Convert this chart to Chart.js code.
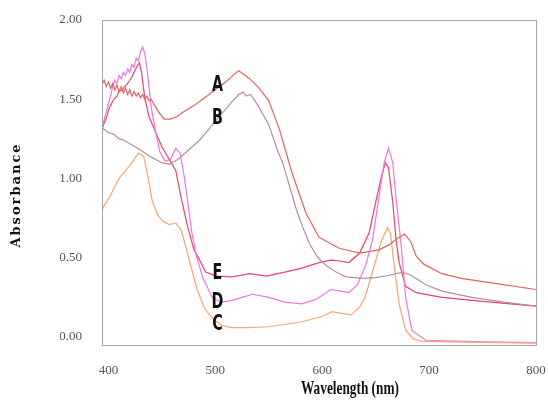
<!DOCTYPE html>
<html>
<head>
<meta charset="utf-8">
<script src="https://cdn.jsdelivr.net/npm/chart.js@4.4.1/dist/chart.umd.min.js"></script>
<style>
  html, body { margin: 0; padding: 0; background: #fff; }
  #wrap { width: 548px; height: 400px; }
</style>
</head>
<body>
<div id="wrap"><canvas id="spectra"></canvas></div>
<script>
// wavelength (nm) / absorbance
const aWl = [394, 396, 398, 400, 402, 404, 406, 408, 410, 412, 414, 416, 418, 420, 422, 424, 426, 428, 430, 432, 434, 436, 438, 440,
    446, 452, 458, 464, 470, 480, 490, 500, 510, 518, 522, 526, 532, 541, 550, 560, 572, 585, 597, 616, 635, 653, 662, 670, 677, 683, 688, 695, 712, 730, 760, 800];
const aAbs = [1.59, 1.62, 1.58, 1.61, 1.57, 1.60, 1.56, 1.59, 1.55, 1.58, 1.54, 1.57, 1.53, 1.56, 1.52, 1.55, 1.52, 1.54, 1.51, 1.53, 1.50, 1.52, 1.49, 1.50,
    1.43, 1.375, 1.375, 1.39, 1.42, 1.46, 1.51, 1.56, 1.61, 1.66, 1.68, 1.66, 1.63, 1.57, 1.49, 1.31, 1.03, 0.78, 0.63, 0.56, 0.53, 0.55, 0.58, 0.62, 0.65, 0.60, 0.51, 0.46, 0.40, 0.37, 0.34, 0.30];

const bWl = [394, 400, 405, 410, 415, 420, 425, 430, 440, 450, 457, 465, 475, 485, 495, 505, 515, 522, 526, 529, 533, 540, 550, 558, 563, 570, 576, 582, 588, 596, 604, 613, 622, 638, 650, 663, 675, 683, 697, 712, 740, 770, 800];
const bAbs = [1.32, 1.29, 1.28, 1.25, 1.24, 1.22, 1.20, 1.18, 1.135, 1.10, 1.09, 1.12, 1.18, 1.24, 1.32, 1.40, 1.48, 1.53, 1.545, 1.52, 1.53, 1.46, 1.34, 1.18, 1.10, 0.94, 0.80, 0.69, 0.59, 0.50, 0.45, 0.41, 0.38, 0.37, 0.375, 0.39, 0.41, 0.39, 0.33, 0.29, 0.25, 0.22, 0.195];

const cWl = [394, 397, 401, 406, 411, 416, 422, 428, 433, 437, 441, 446, 451, 457, 463, 468, 472, 477, 483, 490, 497, 505, 515, 530, 550, 580, 600, 609, 618, 627, 635, 640, 644, 650, 655, 661, 664, 667, 672, 678, 685, 692, 720, 800];
const cAbs = [0.80, 0.84, 0.88, 0.95, 1.01, 1.05, 1.10, 1.16, 1.14, 1.01, 0.86, 0.77, 0.73, 0.71, 0.72, 0.675, 0.58, 0.45, 0.30, 0.18, 0.12, 0.076, 0.06, 0.06, 0.065, 0.095, 0.13, 0.16, 0.15, 0.14, 0.19, 0.25, 0.34, 0.48, 0.60, 0.69, 0.65, 0.47, 0.21, 0.044, -0.01, -0.025, -0.03, -0.038];

const dWl = [394, 396, 398, 400, 402, 404, 406, 408, 410, 412, 414, 416, 418, 420, 422, 424, 426, 428, 430, 432, 434, 436, 438, 440, 444, 448, 453, 458, 463, 467, 471, 474, 478, 482, 488, 497, 505, 515, 525, 535, 550, 565, 581, 595, 608, 617, 625, 633, 641, 647, 653, 658, 662, 666, 669, 674, 678, 684, 697, 750, 800];
const dAbs = [1.32, 1.37, 1.42, 1.47, 1.52, 1.58, 1.62, 1.60, 1.65, 1.63, 1.67, 1.65, 1.69, 1.67, 1.72, 1.70, 1.76, 1.74, 1.80, 1.83, 1.79, 1.70, 1.58, 1.45, 1.30, 1.17, 1.11, 1.12, 1.19, 1.16, 1.01, 0.86, 0.66, 0.52, 0.38, 0.25, 0.22, 0.23, 0.25, 0.27, 0.25, 0.22, 0.21, 0.24, 0.30, 0.29, 0.28, 0.33, 0.46, 0.61, 0.88, 1.10, 1.19, 1.10, 0.88, 0.57, 0.25, 0.04, -0.02, -0.03, -0.035];

const eWl = [394, 396, 398, 400, 402, 405, 408, 410, 413, 415, 418, 420, 422, 424, 427, 429, 431, 434, 438, 443, 450, 457, 463, 468, 474, 480, 485, 491, 501, 516, 532, 548, 565, 581, 597, 608, 617, 625, 635, 644, 650, 655, 659, 662, 666, 669, 672, 678, 688, 712, 750, 800];
const eAbs = [1.31, 1.35, 1.38, 1.43, 1.46, 1.50, 1.52, 1.55, 1.56, 1.58, 1.60, 1.62, 1.64, 1.67, 1.71, 1.73, 1.67, 1.51, 1.39, 1.31, 1.20, 1.12, 1.05, 0.88, 0.70, 0.55, 0.49, 0.41, 0.385, 0.38, 0.40, 0.385, 0.41, 0.435, 0.47, 0.485, 0.48, 0.47, 0.53, 0.66, 0.85, 1.00, 1.10, 1.07, 0.85, 0.62, 0.47, 0.32, 0.28, 0.25, 0.225, 0.195];

const curveNames = ["A", "B", "C", "D", "E"];
const curveColors = ["#e4625f", "#b68ea0", "#f7a572", "#f272e6", "#ec4463"];

// letter tags placed beside the curves
const tagWl = [502, 502, 502, 502, 502];
const tagAbs = [1.59, 1.38, 0.08, 0.22, 0.40];

const xTicks = [400, 500, 600, 700, 800];
const yTicks = [0, 0.5, 1.0, 1.5, 2.0];

const series = [[aWl, aAbs], [bWl, bAbs], [cWl, cAbs], [dWl, dAbs], [eWl, eAbs]];

const tickFont = { family: "'Liberation Serif', serif", size: 13 };

const frameAndText = {
    id: "frameAndText",
    afterDraw(chart) {
        const { ctx, chartArea: a, scales } = chart;
        ctx.save();
        ctx.strokeStyle = "#a6a6a6";
        ctx.lineWidth = 1;
        ctx.strokeRect(a.left + 0.5, a.top + 0.5, a.right - a.left, a.bottom - a.top);

        // curve tags
        ctx.fillStyle = "#111";
        ctx.textAlign = "center";
        ctx.textBaseline = "middle";
        ctx.font = "bold 22px 'DejaVu Sans Condensed', 'DejaVu Sans', sans-serif";
        curveNames.forEach((n, i) => {
            const x = scales.x.getPixelForValue(tagWl[i]);
            const y = scales.y.getPixelForValue(tagAbs[i]);
            ctx.save();
            ctx.translate(x, y);
            ctx.scale(0.72, 1);
            ctx.fillText(n, 0, 0);
            ctx.restore();
        });

        // axis titles
        ctx.save();
        ctx.translate(350, 389);
        ctx.scale(0.7, 1);
        ctx.font = "bold 19px 'Liberation Serif', serif";
        ctx.fillText("Wavelength (nm)", 0, 0);
        ctx.restore();

        ctx.save();
        ctx.translate(17, 195);
        ctx.rotate(-Math.PI / 2);
        ctx.font = "bold 13px 'DejaVu Serif', serif";
        ctx.letterSpacing = "2px";
        ctx.fillText("Absorbance", 0, 0);
        ctx.restore();
        ctx.restore();
    }
};

new Chart(document.getElementById("spectra"), {
    type: "line",
    data: {
        datasets: series.map((s, i) => ({
            label: curveNames[i],
            data: s[0].map((w, j) => ({ x: w, y: s[1][j] })),
            borderColor: curveColors[i],
            borderWidth: 1.2,
            pointRadius: 0,
            tension: 0,
            fill: false,
        })),
    },
    options: {
        responsive: true,
        maintainAspectRatio: false,
        animation: false,
        layout: { padding: { left: 60, right: 12, top: 20, bottom: 0 } },
        plugins: {
            legend: { display: false },
            tooltip: { enabled: false },
        },
        scales: {
            x: {
                type: "linear",
                min: 394,
                max: 800,
                grid: { display: false, drawTicks: false },
                border: { display: false },
                afterBuildTicks: (s) => { s.ticks = xTicks.map((v) => ({ value: v })); },
                afterFit: (s) => { s.height = 55; s.paddingLeft = 0; s.paddingRight = 0; },
                ticks: { color: "#555", font: tickFont, padding: 18, maxRotation: 0 },
            },
            y: {
                min: -0.05,
                max: 2.0,
                grid: { display: false, drawTicks: false },
                border: { display: false },
                afterBuildTicks: (s) => { s.ticks = yTicks.map((v) => ({ value: v })); },
                afterFit: (s) => { s.width = 42; s.paddingTop = 0; s.paddingBottom = 0; },
                ticks: { color: "#555", font: tickFont, padding: 20, callback: (v) => Number(v).toFixed(2) },
            },
        },
    },
    plugins: [frameAndText],
});
</script>
</body>
</html>
